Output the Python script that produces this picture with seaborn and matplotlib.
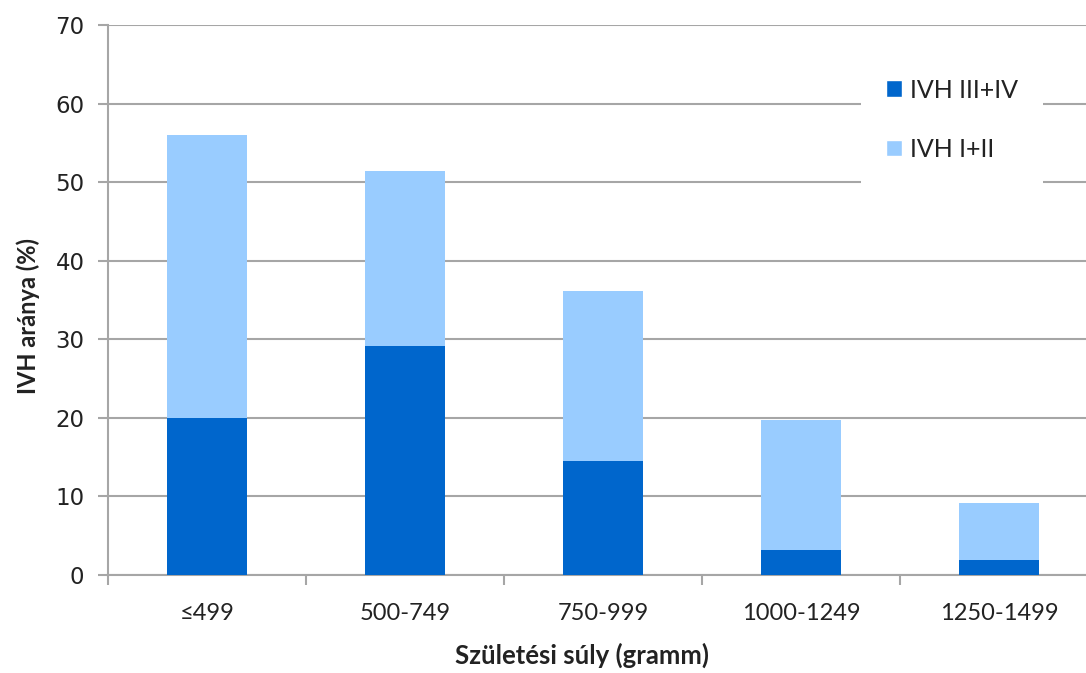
import matplotlib
matplotlib.use("Agg")
import matplotlib.pyplot as plt
import seaborn as sns
import pandas as pd
from matplotlib.patches import Patch

categories = ["≤499", "500-749", "750-999", "1000-1249", "1250-1499"]
ivh_severe = [20.0, 29.2, 14.5, 3.2, 1.9]      # IVH III+IV
ivh_total = [56.0, 51.4, 36.1, 19.7, 9.2]       # total (III+IV plus I+II)
ivh_mild = [t - s for t, s in zip(ivh_total, ivh_severe)]  # IVH I+II

dark = "#0066CC"
light = "#99CCFF"
grid_c = "#A6A6A6"

sns.set_theme(style="white")
plt.rcParams['font.family'] = ['Lato', 'DejaVu Sans']

df = pd.DataFrame({"cat": categories, "severe": ivh_severe, "total": ivh_total})

fig = plt.figure(figsize=(10.86, 6.73), dpi=100)
ax = fig.add_axes([108/1086, 1 - 575/673, 990/1086, 550/673])

sns.barplot(data=df, x="cat", y="total", color=light, width=0.4, ax=ax,
            saturation=1, zorder=2, linewidth=0)
sns.barplot(data=df, x="cat", y="severe", color=dark, width=0.4, ax=ax,
            saturation=1, zorder=3, linewidth=0)

ax.set_xlim(-0.5, 4.5)
ax.set_ylim(0, 70)
ax.set_yticks(range(0, 71, 10))
ax.yaxis.grid(True, color=grid_c, linewidth=1.5, zorder=0)
ax.set_axisbelow(True)

for s in ["top", "right"]:
    ax.spines[s].set_visible(False)
for s in ["left", "bottom"]:
    ax.spines[s].set_color(grid_c)
    ax.spines[s].set_linewidth(1.5)

ax.tick_params(axis="y", which="major", length=7, width=1.5, color=grid_c,
               direction="out", left=True, labelsize=16.5, pad=10)
for lab in ax.get_yticklabels():
    lab.set_fontfamily("DejaVu Sans")
    lab.set_color("#222222")
ax.set_xticks(range(len(categories)))
ax.set_xticklabels(categories, fontsize=17, color="#222222")
ax.set_xticks([i - 0.5 for i in range(len(categories) + 1)], minor=True)
ax.tick_params(axis="x", which="minor", length=7, width=1.5, color=grid_c,
               direction="out", bottom=True)
ax.tick_params(axis="x", which="major", length=0, pad=20)

ax.set_xlabel("Születési súly (gramm)", fontsize=18.5, fontweight="bold", color="#222222")
ax.set_ylabel("IVH aránya (%)", fontsize=17, fontweight="bold", color="#222222")
ax.xaxis.set_label_coords((582 - 108) / 990, (575 - 643) / 550)
ax.yaxis.set_label_coords((40 - 108) / 990, (575 - 316) / 550)

handles = [Patch(facecolor=dark, label="IVH III+IV"),
           Patch(facecolor=light, label="IVH I+II")]
leg = ax.legend(handles=handles, loc="upper left",
                bbox_to_anchor=(848/1086, 1 - 41/673), bbox_transform=fig.transFigure,
                frameon=True, handlelength=0.64, handleheight=0.64,
                labelspacing=1.45, handletextpad=0.35, borderpad=1.0,
                fancybox=False, edgecolor="white", framealpha=1,
                prop={"size": 18})
leg.get_frame().set_linewidth(0)
for t in leg.get_texts():
    t.set_color("#222222")

fig.savefig("out.png", dpi=100)
